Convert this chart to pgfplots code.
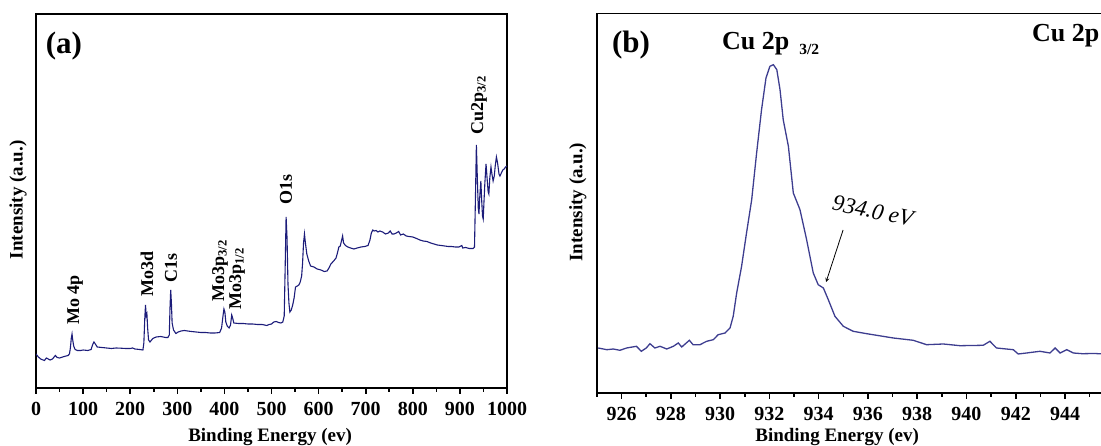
\documentclass[border=0pt]{standalone}
\usepackage{pgfplots}
\pgfplotsset{compat=1.18}
\usepackage{fontspec}
\setmainfont{Liberation Serif}
\newcommand{\fs}[1]{\fontsize{#1}{#1}\selectfont}
\definecolor{navya}{HTML}{1C1C7A}
\definecolor{navyb}{HTML}{3D3D8F}

\pgfplotsset{
  xpsframe/.style={
    scale only axis,
    anchor=south west,
    axis line style={line width=1.6pt},
    ytick=\empty,
    xtick pos=bottom,
    tick align=outside,
    major tick length=6pt,
    minor tick length=4pt,
    every tick/.style={black,line width=1.6pt},
    minor x tick num=1,
    /pgf/number format/assume math mode=true,
    /pgf/number format/.cd,1000 sep={},
    /pgfplots/.cd,
    tick label style={font=\fs{20}\bfseries},
    xticklabel style={yshift=-5pt},
    label style={font=\fs{19}\bfseries},
    clip=true,
  }
}

\begin{document}
\begin{tikzpicture}

% (a) survey spectrum
\begin{axis}[xpsframe,
  at={(36pt,58pt)}, width=471pt, height=374pt,
  xmin=0, xmax=1000, ymin=0, ymax=374,
  xtick distance=100,
  xlabel={Binding Energy (ev)},
  ylabel={Intensity (a.u.)},
  xlabel style={at={(axis description cs:0.497,-0.131)},anchor=center},
  ylabel style={at={(axis description cs:-0.038,0.503)},anchor=center,rotate=0},
]
\addplot[navya, line width=1.1pt] coordinates {
(0,34) (5,31) (10,29) (15,28) (18,27.5) (22,30) (26,29) (30,28) (35,29) (41,32.5) (45,30.5) (50,30) (60,31.5) (68,32.5) (71,34) (73,40) (75,50) (76.5,54) (78,48) (80,42) (83,38.5) (88,37.5) (95,37.5) (100,38) (110,37.5) (117,38.5) (120,43) (123,46) (126,44) (130,41) (140,40.5) (150,40) (160,39.5) (170,40) (180,39.8) (190,39.5) (200,39.5) (205,40) (210,39) (220,38.5) (227,38) (229,45) (231,70) (232.5,83) (234,72) (235.5,74) (237,60) (239,48) (242,46) (248,49.5) (255,51) (265,51.5) (275,50.5) (280,50.5) (283,53) (284.5,80) (286,98) (287.5,85) (289,65) (292,58) (297,54.5) (302,56) (308,57) (315,57.5) (322,57) (330,56.5) (340,56) (350,55.5) (360,55.5) (370,55) (380,55) (390,55.5) (394,60) (397,72) (399,79) (401,76) (403,66) (406,62) (410,60) (413,63) (415.5,73) (417.5,70) (420,65) (430,64.5) (440,64.5) (450,64) (460,64) (470,63.5) (480,63.5) (490,62.5) (495,63.5) (500,64) (505,66) (510,66.5) (515,65.5) (520,65) (524,66) (527,72) (529,120) (531,171) (533,150) (535,104) (537,85) (539,76) (542,78) (545,83) (548,90) (551,101) (555,102) (558,103) (561,106) (564,112) (566,125) (568,145) (570,154) (572,145) (575,134) (579,127) (583,122) (590,121) (597,119) (605,118) (612,116.5) (618,117) (622,120) (626,124) (632,127) (637,130) (640,135) (643,141) (646,142) (649,148) (651,152) (653,145) (657,142.5) (662,141) (668,140) (675,139) (682,140) (690,141) (698,141.5) (705,142.5) (709,148) (712,155) (715,158) (718,157) (722,157.5) (726,156) (730,157) (736,156) (742,154) (748,155) (752,157) (756,154) (760,154) (765,155) (770,156.5) (774,153) (780,154) (786,152) (792,151.5) (800,151) (808,149.5) (815,148) (822,147) (830,146.5) (838,145) (845,144) (852,143) (860,142.5) (868,142) (875,141.5) (882,141.5) (890,141) (898,141) (904,142.5) (906,140) (912,140.5) (920,139.5) (928,139.5) (931,141) (933,190) (935,243) (937,210) (939,180) (940.5,174) (942,190) (944.5,207) (946,190) (948,172) (949.5,169) (951,185) (953,205) (955.5,224) (958,208) (960,196) (961.5,194) (963.5,210) (966,221) (968,214) (970.5,207) (973,212) (975,222) (977.5,231) (980,225) (983,214) (985,212) (988,215) (991,218) (994,219) (997,221) (1000,222)
};
\node[font=\fs{31}\bfseries] at (axis cs:59.4,342) {(a)};
\begin{scope}[every node/.style={font=\fs{18}\bfseries, rotate=90, anchor=west, inner sep=0pt}]
\node at (axis cs:82.8,63) {Mo 4p};
\node at (axis cs:235.7,91) {Mo3d};
\node at (axis cs:286.6,105) {C1s};
\node at (axis cs:390.7,86) {Mo3p\textsubscript{3/2}};
\node at (axis cs:426.8,78) {Mo3p\textsubscript{1/2}};
\node at (axis cs:530.8,183) {O1s};
\node at (axis cs:940.5,253) {Cu2p\textsubscript{3/2}};
\end{scope}
\end{axis}

% (b) Cu 2p region
\begin{axis}[xpsframe,
  at={(597pt,53pt)}, width=615.8pt, height=379.5pt,
  xmin=925, xmax=950, ymin=0, ymax=379.5,
  xtick={926,928,...,944},
  minor xtick={925,927,...,949},
  xlabel={Binding Energy (ev)},
  ylabel={Intensity (a.u.)},
  xlabel style={at={(axis description cs:0.39,-0.116)},anchor=center},
  ylabel style={at={(axis description cs:-0.031,0.503)},anchor=center,rotate=0},
]
\addplot[navyb, line width=1.3pt] coordinates {
(925.05,45) (925.4,43.3) (925.66,44) (925.93,42.7) (926.2,45) (926.6,46.7) (926.8,41.7) (927.0,45) (927.15,49.3) (927.35,45) (927.56,46.7) (927.83,44) (928.1,46.7) (928.3,50) (928.44,46) (928.75,52.7) (928.9,48.3) (929.18,48.3) (929.45,51.7) (929.72,53.3) (929.92,58.3) (930.2,60) (930.4,65) (930.53,76.7) (930.67,100) (930.87,126.7) (931.07,160) (931.28,193.3) (931.48,240) (931.68,283.3) (931.86,315) (932.02,326.7) (932.16,328.3) (932.3,323.3) (932.43,303.3) (932.56,273.3) (932.77,246.7) (932.97,200) (933.24,183.3) (933.51,153.3) (933.78,120) (933.98,108.3) (934.19,105) (934.39,93.3) (934.66,76.7) (935.0,66.7) (935.4,61.7) (935.95,59.3) (937.03,55) (937.84,52.7) (938.38,48.3) (939.06,49) (939.74,47.3) (940.68,47.7) (940.95,51.7) (941.22,45) (941.9,43.3) (942.1,39) (942.44,40) (942.98,41.7) (943.39,40) (943.6,45) (943.8,40) (944.07,43.3) (944.34,40) (944.7,39.3) (945.2,39.5) (945.6,39)
};
\node[font=\fs{31}\bfseries] at (axis cs:926.38,348) {(b)};
\node[font=\fs{26}\bfseries, anchor=base west, inner sep=0pt] at (axis cs:930.07,343)
  {Cu 2p\hspace{10pt}\raisebox{-5pt}{\fs{15.5}3/2}};
\node[font=\fs{26}\bfseries, anchor=base west, inner sep=0pt] at (axis cs:942.66,351) {Cu 2p};
\node[font=\fs{23}\itshape, rotate=-12, inner sep=1pt] at (axis cs:936.2,182) {934.0 eV};
\draw[-stealth, line width=0.8pt] (axis cs:934.99,163) -- (axis cs:934.30,111);
\end{axis}

\pgfresetboundingbox
\path[use as bounding box] (0,0) rectangle (1101pt,446pt);
\end{tikzpicture}
\end{document}
